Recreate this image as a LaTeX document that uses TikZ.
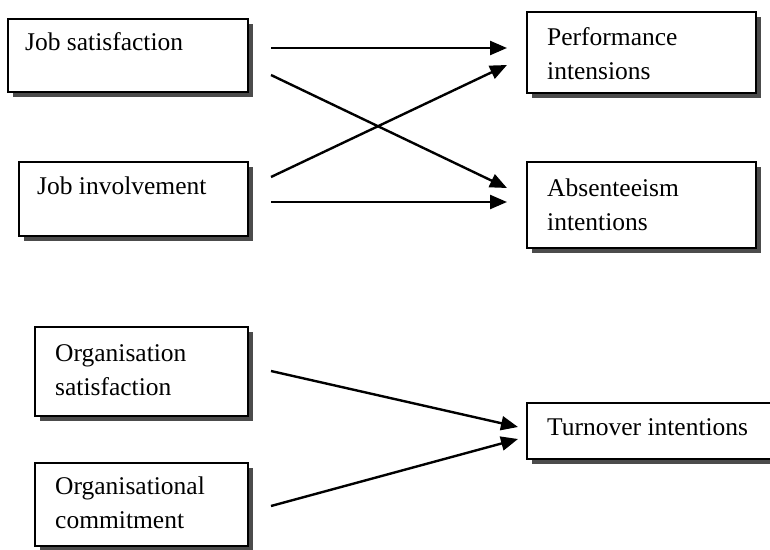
\documentclass[tikz,border=0pt]{standalone}
\usepackage{fontspec}
\setmainfont{Liberation Serif}
\usetikzlibrary{arrows.meta,shadows,calc}

\tikzset{
  boxshape/.style={draw=black, line width=1.8pt, fill=white, inner sep=0pt,
    drop shadow={shadow xshift=5pt, shadow yshift=-5pt, opacity=1, fill=black!70}},
  boxtext/.style={anchor=base west, inner sep=0pt, align=left,
    font=\fontsize{25.5}{33.5}\selectfont},
  link/.style={line width=2.4pt, -{Triangle[length=17pt, width=14pt]}},
}

\begin{document}
\begin{tikzpicture}[x=1pt, y=-1pt]
  \clip (0,0) rectangle (770,549);
  \fill[white] (0,0) rectangle (770,549);

  % boxes: centre, width, height
  \node[boxshape, minimum width=240pt, minimum height=73pt] (js)   at (128,55.5)  {};
  \node[boxshape, minimum width=229pt, minimum height=81pt] (perf) at (641.5,52.5) {};
  \node[boxshape, minimum width=229pt, minimum height=74pt] (ji)   at (133.5,199) {};
  \node[boxshape, minimum width=229pt, minimum height=86pt] (abs)  at (641.5,205) {};
  \node[boxshape, minimum width=213pt, minimum height=89pt] (os)   at (141.5,371.5) {};
  \node[boxshape, minimum width=213pt, minimum height=83pt] (oc)   at (141.5,504.5) {};
  \node[boxshape, minimum width=260pt, minimum height=56pt] (turn) at (657,431) {};

  % box texts (base anchor sits on the last line)
  \node[boxtext] (jst)   at (25,50)   {Job satisfaction};
  \node[boxtext] (perft) at (547,79)  {Performance\\intensions};
  \node[boxtext] (jit)   at (37,194)  {Job involvement};
  \node[boxtext] (abst)  at (547,230) {Absenteeism\\intentions};
  \node[boxtext] (ost)   at (55,395)  {Organisation\\satisfaction};
  \node[boxtext] (oct)   at (55,528)  {Organisational\\commitment};
  \node[boxtext] (turnt) at (547,435) {Turnover intentions};

  % connector end points
  \coordinate (a1s) at (271,48);  \coordinate (a1e) at (507,48);
  \coordinate (a2s) at (271,75);  \coordinate (a2e) at (507,188);
  \coordinate (a3s) at (271,177); \coordinate (a3e) at (507,65);
  \coordinate (a4s) at (271,202); \coordinate (a4e) at (507,202);
  \coordinate (a5s) at (271,371); \coordinate (a5e) at (518,427);
  \coordinate (a6s) at (271,506); \coordinate (a6e) at (518,439);

  % connectors
  \draw[link] (a1s) -- (a1e);
  \draw[link] (a2s) -- (a2e);
  \draw[link] (a3s) -- (a3e);
  \draw[link] (a4s) -- (a4e);
  \draw[link] (a5s) -- (a5e);
  \draw[link] (a6s) -- (a6e);
\end{tikzpicture}
\end{document}
